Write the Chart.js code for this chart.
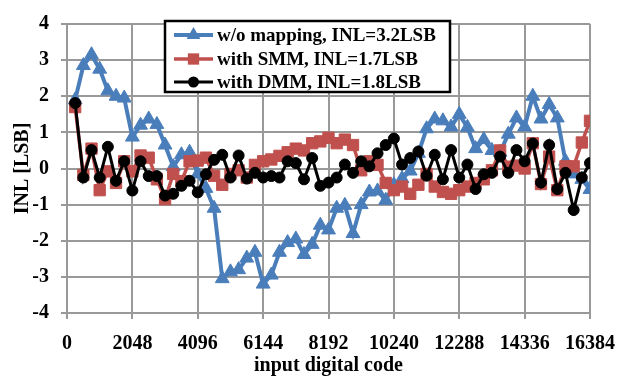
<!DOCTYPE html>
<html>
<head>
<meta charset="utf-8">
<script src="https://cdn.jsdelivr.net/npm/chart.js@4/dist/chart.umd.min.js"></script>
<style>
  html, body { margin: 0; padding: 0; background: #fff; }
  canvas { display: block; }
</style>
</head>
<body>
<canvas id="inlChart" width="628" height="378"></canvas>
<script>
// Input codes at which INL was measured
const codes = [
  256, 512, 768, 1024, 1280, 1536, 1792, 2048,
  2304, 2560, 2816, 3072, 3328, 3584, 3840, 4096,
  4352, 4608, 4864, 5120, 5376, 5632, 5888, 6144,
  6400, 6656, 6912, 7168, 7424, 7680, 7936, 8192,
  8448, 8704, 8960, 9216, 9472, 9728, 9984, 10240,
  10496, 10752, 11008, 11264, 11520, 11776, 12032, 12288,
  12544, 12800, 13056, 13312, 13568, 13824, 14080, 14336,
  14592, 14848, 15104, 15360, 15616, 15872, 16128, 16384
];

// INL [LSB] without mapping
const inlNoMapping = [
  1.90, 2.85, 3.15, 2.75, 2.15, 2.00, 1.95, 0.87,
  1.20, 1.37, 1.22, 0.65, 0.05, 0.38, 0.45, -0.15,
  -0.55, -1.10, -3.05, -2.86, -2.80, -2.48, -2.32, -3.20,
  -2.95, -2.32, -2.05, -1.95, -2.38, -2.10, -1.57, -1.70,
  -1.10, -1.02, -1.80, -1.00, -0.65, -0.62, -0.88, -0.45,
  -0.28, -0.07, 0.42, 1.10, 1.37, 1.32, 1.15, 1.50,
  1.14, 0.55, 0.80, 0.50, 0.45, 0.95, 1.40, 1.15,
  2.00, 1.37, 1.77, 1.40, 0.20, -0.15, -0.30, -0.58
];

// INL [LSB] with SMM
const inlSMM = [
  1.70, -0.18, 0.55, -0.60, -0.08, -0.40, 0.20, -0.08,
  0.36, 0.30, -0.30, -0.85, -0.15, -0.35, 0.20, 0.22,
  0.30, -0.20, -0.45, -0.15, -0.05, -0.25, 0.10, 0.20,
  0.25, 0.35, 0.45, 0.55, 0.50, 0.70, 0.75, 0.85,
  0.70, 0.80, 0.65, -0.05, 0.20, 0.10, -0.40, -0.60,
  -0.50, -0.70, -0.45, -0.15, -0.50, -0.65, -0.70, -0.60,
  -0.50, -0.40, -0.30, -0.05, 0.50, 0.05, 0.08, 0.00,
  0.70, -0.43, 0.33, -0.60, 0.06, 0.06, 0.72, 1.32
];

// INL [LSB] with DMM
const inlDMM = [
  1.81, -0.25, 0.51, -0.25, 0.60, -0.34, 0.20, -0.61,
  0.20, -0.21, -0.21, -0.75, -0.70, -0.48, -0.34, -0.66,
  -0.16, 0.24, 0.38, -0.25, 0.36, -0.28, -0.12, -0.25,
  -0.21, -0.25, 0.20, 0.15, -0.30, 0.29, -0.48, -0.39,
  -0.25, 0.11, -0.12, 0.20, 0.06, 0.42, 0.65, 0.83,
  0.11, 0.29, 0.47, -0.20, 0.38, -0.30, 0.51, -0.25,
  0.11, -0.57, -0.16, -0.12, 0.33, -0.12, 0.51, 0.20,
  0.69, -0.39, 0.65, -0.57, -0.12, -1.15, -0.25, 0.15
];

const seriesLabels = [
  'w/o mapping, INL=3.2LSB',
  'with SMM, INL=1.7LSB',
  'with DMM, INL=1.8LSB'
];

const xTickValues = [0, 2048, 4096, 6144, 8192, 10240, 12288, 14336, 16384];
const yTickValues = [-4, -3, -2, -1, 0, 1, 2, 3, 4];

const BLUE = '#4A7EBB';
const RED = '#C0504D';
const BLACK = '#000000';
const GRID = '#999999';
const SERIF = '"Liberation Serif", "Times New Roman", serif';

const toPoints = vals => codes.map((c, i) => ({ x: c, y: vals[i] }));

// Boxed legend drawn inside the plot area, each entry as line + marker
const boxedLegend = {
  id: 'boxedLegend',
  afterDraw(chart) {
    const ctx = chart.ctx;
    const box = { x: 165, y: 21, w: 285, h: 71 };
    ctx.save();
    ctx.fillStyle = '#fff';
    ctx.fillRect(box.x, box.y, box.w, box.h);
    ctx.strokeStyle = '#000';
    ctx.lineWidth = 2.5;
    ctx.strokeRect(box.x, box.y, box.w, box.h);

    const rows = [35, 59, 82];
    chart.data.datasets.forEach((ds, i) => {
      const y = rows[i];
      const x0 = 174, x1 = 213, xm = (x0 + x1) / 2;
      ctx.strokeStyle = ds.borderColor;
      ctx.lineWidth = ds.borderWidth;
      ctx.beginPath();
      ctx.moveTo(x0, y);
      ctx.lineTo(x1, y);
      ctx.stroke();
      ctx.fillStyle = ds.pointBackgroundColor;
      const r = ds.pointRadius;
      ctx.beginPath();
      if (ds.pointStyle === 'triangle') {
        ctx.moveTo(xm, y - r);
        ctx.lineTo(xm + r * 0.866, y + r * 0.5);
        ctx.lineTo(xm - r * 0.866, y + r * 0.5);
        ctx.closePath();
      } else if (ds.pointStyle === 'rect') {
        const s = r * Math.SQRT1_2;
        ctx.rect(xm - s, y - s, 2 * s, 2 * s);
      } else {
        ctx.arc(xm, y, r, 0, Math.PI * 2);
      }
      ctx.fill();

      ctx.fillStyle = '#000';
      ctx.font = 'bold 19px ' + SERIF;
      ctx.textBaseline = 'middle';
      ctx.textAlign = 'left';
      ctx.fillText(seriesLabels[i], 217, y + 1);
    });
    ctx.restore();
  }
};

const tickFont = { family: SERIF, size: 20, weight: 'bold' };
const titleFont = { family: SERIF, size: 20, weight: 'bold' };

new Chart(document.getElementById('inlChart'), {
  type: 'line',
  data: {
    datasets: [
      {
        label: seriesLabels[0],
        data: toPoints(inlNoMapping),
        borderColor: BLUE,
        backgroundColor: BLUE,
        borderWidth: 4,
        pointStyle: 'triangle',
        pointRadius: 8,
        pointBackgroundColor: BLUE,
        pointBorderColor: BLUE,
        pointBorderWidth: 1,
        order: 2
      },
      {
        label: seriesLabels[1],
        data: toPoints(inlSMM),
        borderColor: RED,
        backgroundColor: RED,
        borderWidth: 3.5,
        pointStyle: 'rect',
        pointRadius: 8,
        pointBackgroundColor: RED,
        pointBorderColor: RED,
        pointBorderWidth: 1,
        order: 1
      },
      {
        label: seriesLabels[2],
        data: toPoints(inlDMM),
        borderColor: BLACK,
        backgroundColor: BLACK,
        borderWidth: 3,
        pointStyle: 'circle',
        pointRadius: 5.5,
        pointBackgroundColor: BLACK,
        pointBorderColor: BLACK,
        pointBorderWidth: 1,
        order: 0
      }
    ]
  },
  options: {
    responsive: false,
    animation: false,
    devicePixelRatio: 1,
    layout: { padding: { top: 16, right: 30, left: 0, bottom: 0 } },
    elements: { line: { tension: 0 } },
    plugins: {
      legend: { display: false },
      tooltip: { enabled: false }
    },
    scales: {
      x: {
        type: 'linear',
        min: 0,
        max: 16384,
        afterBuildTicks: s => { s.ticks = xTickValues.map(v => ({ value: v })); },
        afterFit: s => { s.height = 65; },
        ticks: {
          color: '#000',
          font: tickFont,
          padding: 13,
          maxRotation: 0,
          autoSkip: false,
          callback: v => String(v)
        },
        grid: { color: GRID, lineWidth: 2, tickLength: 6, tickColor: GRID },
        border: { color: GRID, width: 2 },
        title: {
          display: true,
          text: 'input digital code',
          color: '#000',
          font: titleFont,
          padding: { top: 0, bottom: 0 }
        }
      },
      y: {
        type: 'linear',
        min: -4,
        max: 4,
        afterBuildTicks: s => { s.ticks = yTickValues.map(v => ({ value: v })); },
        afterFit: s => { s.width = 67; },
        ticks: {
          color: '#000',
          font: tickFont,
          padding: 12,
          callback: v => String(v)
        },
        grid: { color: GRID, lineWidth: 2, tickLength: 6, tickColor: GRID },
        border: { color: GRID, width: 2 },
        title: {
          display: true,
          text: 'INL [LSB]',
          color: '#000',
          font: titleFont,
          padding: { top: 11, bottom: 0 }
        }
      }
    }
  },
  plugins: [boxedLegend]
});
</script>
</body>
</html>
